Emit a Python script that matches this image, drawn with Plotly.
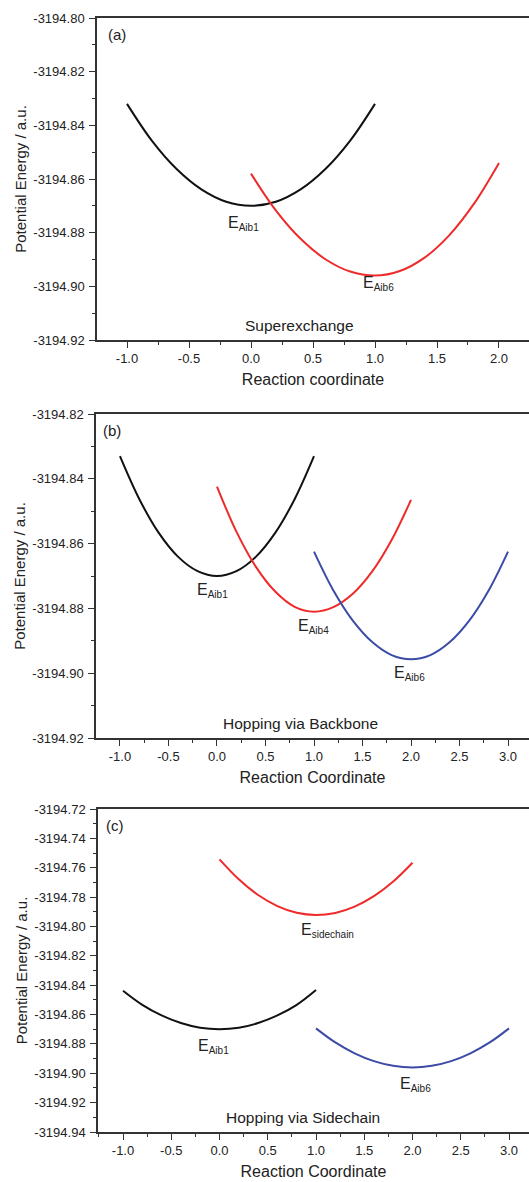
import plotly.graph_objects as go

# ---------------- data ----------------
# Panel (a) Superexchange
a_black_x = [-1.0, -0.8, -0.6, -0.4, -0.2, 0.0, 0.2, 0.4, 0.6, 0.8, 1.0]
a_black_y = [-3194.832, -3194.8457, -3194.8563, -3194.8639, -3194.8685, -3194.870,
             -3194.8685, -3194.8639, -3194.8563, -3194.8457, -3194.832]
a_red_x = [0.0, 0.2, 0.4, 0.6, 0.8, 1.0, 1.2, 1.4, 1.6, 1.8, 2.0]
a_red_y = [-3194.858, -3194.8717, -3194.8823, -3194.8899, -3194.8945, -3194.896,
           -3194.8943, -3194.8893, -3194.8809, -3194.8691, -3194.854]

# Panel (b) Hopping via Backbone
b_black_x = [-1.0, -0.8, -0.6, -0.4, -0.2, 0.0, 0.2, 0.4, 0.6, 0.8, 1.0]
b_black_y = [-3194.833, -3194.8463, -3194.8567, -3194.8641, -3194.8685, -3194.870,
             -3194.8685, -3194.8641, -3194.8567, -3194.8463, -3194.833]
b_red_x = [0.0, 0.2, 0.4, 0.6, 0.8, 1.0, 1.2, 1.4, 1.6, 1.8, 2.0]
b_red_y = [-3194.8424, -3194.8563, -3194.8671, -3194.8748, -3194.8795, -3194.881,
           -3194.8796, -3194.8755, -3194.8686, -3194.8589, -3194.8465]
b_blue_x = [1.0, 1.2, 1.4, 1.6, 1.8, 2.0, 2.2, 2.4, 2.6, 2.8, 3.0]
b_blue_y = [-3194.8625, -3194.8745, -3194.8838, -3194.8904, -3194.8944, -3194.8957,
            -3194.8944, -3194.8904, -3194.8838, -3194.8745, -3194.8625]

# Panel (c) Hopping via Sidechain
c_red_x = [0.0, 0.2, 0.4, 0.6, 0.8, 1.0, 1.2, 1.4, 1.6, 1.8, 2.0]
c_red_y = [-3194.7543, -3194.7679, -3194.7786, -3194.7861, -3194.7907, -3194.7922,
           -3194.7908, -3194.7865, -3194.7794, -3194.7694, -3194.7566]
c_black_x = [-1.0, -0.8, -0.6, -0.4, -0.2, 0.0, 0.2, 0.4, 0.6, 0.8, 1.0]
c_black_y = [-3194.8438, -3194.8534, -3194.8606, -3194.8658, -3194.8690, -3194.870,
             -3194.8690, -3194.8658, -3194.8606, -3194.8534, -3194.8433]
c_blue_x = [1.0, 1.2, 1.4, 1.6, 1.8, 2.0, 2.2, 2.4, 2.6, 2.8, 3.0]
c_blue_y = [-3194.8694, -3194.8790, -3194.8864, -3194.8917, -3194.8949, -3194.896,
            -3194.8949, -3194.8917, -3194.8864, -3194.8790, -3194.8694]

# tick labels
a_xticks = [-1.0, -0.5, 0.0, 0.5, 1.0, 1.5, 2.0]
bc_xticks = [-1.0, -0.5, 0.0, 0.5, 1.0, 1.5, 2.0, 2.5, 3.0]
a_yticks = [-3194.92, -3194.90, -3194.88, -3194.86, -3194.84, -3194.82, -3194.80]
b_yticks = [-3194.92, -3194.90, -3194.88, -3194.86, -3194.84, -3194.82]
c_yticks = [-3194.94, -3194.92, -3194.90, -3194.88, -3194.86, -3194.84, -3194.82,
            -3194.80, -3194.78, -3194.76, -3194.74, -3194.72]

# curve labels: (subscript, x, y)
a_labels = [("Aib1", -0.06, -3194.8765), ("Aib6", 1.03, -3194.8990)]
b_labels = [("Aib1", -0.05, -3194.8745), ("Aib4", 0.99, -3194.8855), ("Aib6", 1.98, -3194.9000)]
c_labels = [("sidechain", 1.12, -3194.8025), ("Aib1", -0.06, -3194.8815), ("Aib6", 2.03, -3194.9075)]
panel_titles = ["Superexchange", "Hopping via Backbone", "Hopping via Sidechain"]
panel_tags = ["(a)", "(b)", "(c)"]
x_titles = ["Reaction coordinate", "Reaction Coordinate", "Reaction Coordinate"]

# ---------------- figure ----------------
W, H = 529, 1182
BLACK = "#111111"
RED = "#ee2a2a"
BLUE = "#3c4ba6"
FONT = "Arial, Liberation Sans, sans-serif"
TXT = "#222222"

fig = go.Figure()

def add_line(x, y, color, n):
    fig.add_trace(go.Scatter(x=x, y=y, mode="lines", line=dict(color=color, width=2, shape="spline"),
                             xaxis="x" + ("" if n == 1 else str(n)),
                             yaxis="y" + ("" if n == 1 else str(n)), showlegend=False, hoverinfo="skip"))

add_line(a_black_x, a_black_y, BLACK, 1)
add_line(a_red_x, a_red_y, RED, 1)
add_line(b_black_x, b_black_y, BLACK, 2)
add_line(b_red_x, b_red_y, RED, 2)
add_line(b_blue_x, b_blue_y, BLUE, 2)
add_line(c_red_x, c_red_y, RED, 3)
add_line(c_black_x, c_black_y, BLACK, 3)
add_line(c_blue_x, c_blue_y, BLUE, 3)

# panel geometry in pixels: (left, top, bottom, xrange, yrange, xticks, yticks)
panels = [
    (97, 18, 340, [-1.242, 2.242], [-3194.92, -3194.80], a_xticks, a_yticks),
    (96, 414, 738, [-1.247, 3.216], [-3194.92, -3194.82], bc_xticks, b_yticks),
    (98, 809, 1132, [-1.259, 3.207], [-3194.94, -3194.72], bc_xticks, c_yticks),
]

axis_common = dict(showline=True, linecolor="#333333", linewidth=1.5, ticks="outside",
                   ticklen=6, tickwidth=1.2, tickcolor="#333333", showgrid=False, zeroline=False,
                   automargin=False,
                   tickfont=dict(family=FONT, size=13, color=TXT))

layout = {}
for i, (left, top, bottom, xr, yr, xt, yt) in enumerate(panels):
    n = i + 1
    sx = "" if n == 1 else str(n)
    layout["xaxis" + sx] = dict(
        axis_common, domain=[left / W, 1.0], range=xr, anchor="y" + sx, mirror=True,
        tickmode="array", tickvals=xt, ticktext=["%.1f" % v for v in xt],
        minor=dict(ticks="outside", ticklen=3, dtick=0.25, tick0=0, tickcolor="#333333", tickwidth=1),
        title=dict(text=x_titles[i], font=dict(family=FONT, size=16, color=TXT), standoff=8),
    )
    layout["yaxis" + sx] = dict(
        axis_common, domain=[1 - bottom / H, 1 - top / H], range=yr, anchor="x" + sx,
        tickmode="array", tickvals=yt, ticktext=["%.2f" % v for v in yt],
        ticklabelstandoff=2,
        minor=dict(ticks="outside", ticklen=3, dtick=0.01, tick0=0, tickcolor="#333333", tickwidth=1),
        title=dict(text="Potential Energy / a.u.", font=dict(family=FONT, size=15, color=TXT),
                   standoff=3),
    )

annotations = []
label_sets = [a_labels, b_labels, c_labels]
for i, labels in enumerate(label_sets):
    n = i + 1
    sx = "" if n == 1 else str(n)
    for sub, x, y in labels:
        txt = "E<sub><span style='font-size:10px'>%s</span></sub>" % sub
        annotations.append(dict(text=txt, x=x, y=y, xref="x" + sx, yref="y" + sx, showarrow=False,
                                font=dict(family=FONT, size=16, color=TXT)))
    yr = panels[i][4]
    annotations.append(dict(text=panel_titles[i], x=0.86 if n > 1 else 0.39,
                            y=yr[0] + (yr[1] - yr[0]) * 0.045,
                            xref="x" + sx, yref="y" + sx, showarrow=False,
                            font=dict(family=FONT, size=15.5, color=TXT)))
    annotations.append(dict(text=panel_tags[i], x=-1.08, y=yr[1] - (yr[1] - yr[0]) * 0.05,
                            xref="x" + sx, yref="y" + sx, showarrow=False,
                            font=dict(family=FONT, size=15, color=TXT)))

fig.update_layout(width=W, height=H, margin=dict(l=0, r=0, t=0, b=0),
                  paper_bgcolor="white", plot_bgcolor="white", annotations=annotations,
                  font=dict(family=FONT), **layout)

fig.write_html("out.html", config={"displayModeBar": False},
               post_script="document.body.style.margin='0';document.body.style.overflow='hidden';")
